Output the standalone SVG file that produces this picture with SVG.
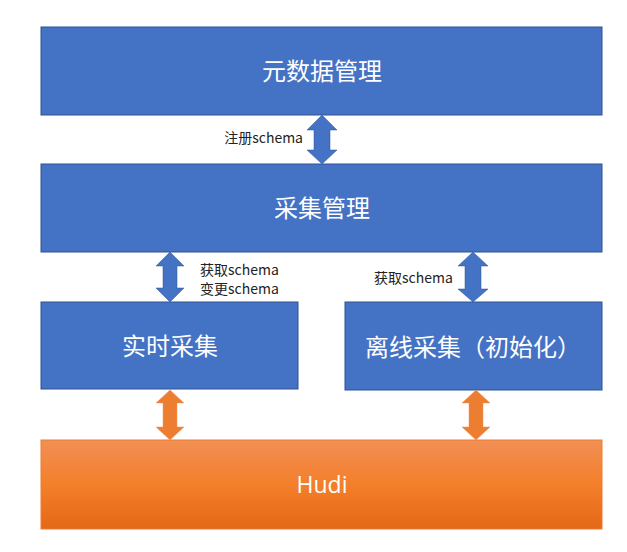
<svg xmlns="http://www.w3.org/2000/svg" width="627" height="552" viewBox="0 0 627 552">
<style>
.box{fill:#4472c4;stroke:#2f528f;stroke-width:1}
.t{font-family:"Noto Sans CJK SC","Noto Sans",sans-serif;fill:#fff;font-size:24px;text-anchor:middle;dominant-baseline:central}
.l{font-family:"Noto Sans CJK SC","Noto Sans",sans-serif;fill:#222;font-size:14px}
.ab{fill:#4472c4;stroke:#2f5597;stroke-width:0.5}
.ao{fill:#ed7d31;stroke:#f19a5c;stroke-width:0.5}
</style>
<defs>
<linearGradient id="og" x1="0" y1="0" x2="0" y2="1">
<stop offset="0" stop-color="#f18f55"/>
<stop offset="0.5" stop-color="#f47f2a"/>
<stop offset="1" stop-color="#e46816"/>
</linearGradient>
</defs>
<rect width="627" height="552" fill="#fff"/>
<g id="meta"><rect class="box" x="41" y="27" width="561" height="88"/><text class="t" x="322" y="69">元数据管理</text></g>
<g id="collect"><rect class="box" x="41" y="164" width="561" height="88"/><text class="t" x="322" y="206">采集管理</text></g>
<g id="realtime"><rect class="box" x="41" y="302" width="257" height="87"/><text class="t" x="170" y="344">实时采集</text></g>
<g id="offline"><rect class="box" x="345" y="302" width="257" height="88"/><text class="t" x="473" y="345">离线采集（初始化）</text></g>
<g id="hudi"><rect x="41" y="440" width="561" height="89" fill="url(#og)" stroke="#ed7d31" stroke-width="1"/><text class="t" x="322" y="484" style="font-family:'Open Sans','Noto Sans',sans-serif;font-size:23px">Hudi</text></g>
<g id="connectors">
<polygon class="ab" points="322,115 337,130 330,130 330,150 337,150 322,164 307,150 314,150 314,130 307,130"/>
<polygon class="ab" points="170,252 184,266 177,266 177,288 184,288 170,302 156,288 163,288 163,266 156,266"/>
<polygon class="ab" points="473,252 488,266 481,266 481,289 488,289 473,302 458,289 465,289 465,266 458,266"/>
<polygon class="ao" points="170,390 184,403 177,403 177,427 184,427 170,440 156,427 163,427 163,403 156,403"/>
<polygon class="ao" points="476,390 490,403 483,403 483,427 490,427 476,440 462,427 469,427 469,403 462,403"/>
</g>
<g id="labels">
<text class="l" x="303" y="143" text-anchor="end">注册schema</text>
<text class="l" x="200" y="275">获取schema</text>
<text class="l" x="200" y="294">变更schema</text>
<text class="l" x="374" y="283">获取schema</text>
</g>
</svg>
